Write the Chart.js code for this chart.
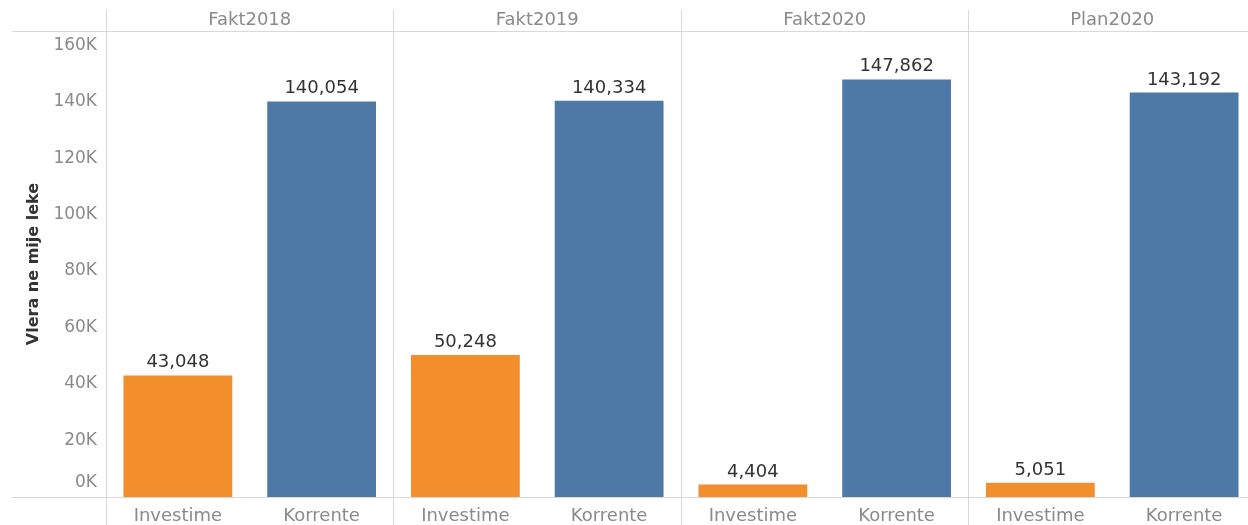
<!DOCTYPE html>
<html><head><meta charset="utf-8">
<script src="https://cdn.jsdelivr.net/npm/chart.js@4.4.1/dist/chart.umd.min.js"></script>
<style>html,body{margin:0;padding:0;overflow:hidden;background:#fff}#wrap{width:1262px;height:525px;position:relative}</style>
</head><body><div id="wrap"><canvas id="c"></canvas></div>
<script>
const panels = ['Fakt2018', 'Fakt2019', 'Fakt2020', 'Plan2020'];
const types = ['Investime', 'Korrente'];
const investime = [43048, 50248, 4404, 5051];
const korrente = [140054, 140334, 147862, 143192];
const yTicks = [0, 20000, 40000, 60000, 80000, 100000, 120000, 140000, 160000];
const colors = ['#F28E2B', '#4E79A7'];

const labels = [], values = [], barColors = [];
panels.forEach((p, i) => {
  labels.push(types[0]); values.push(investime[i]); barColors.push(colors[0]);
  labels.push(types[1]); values.push(korrente[i]); barColors.push(colors[1]);
});

const FONT = 'DejaVu Sans';
const gridCol = '#d9d9d9';
const tickCol = '#8a8a8a';
const fmtK = v => (v / 1000) + 'K';

const extras = {
  id: 'extras',
  afterDraw(chart) {
    const ctx = chart.ctx, a = chart.chartArea;
    ctx.save();
    ctx.strokeStyle = gridCol; ctx.lineWidth = 1;
    ctx.beginPath();
    ctx.moveTo(12, a.top + 0.5); ctx.lineTo(a.right, a.top + 0.5);
    ctx.moveTo(12, a.bottom + 0.5); ctx.lineTo(a.right, a.bottom + 0.5);
    ctx.stroke();
    // zero label raised above the baseline, as in the original
    const ys = chart.scales.y;
    ctx.fillStyle = tickCol;
    ctx.font = '17px "' + FONT + '"';
    ctx.textAlign = 'right'; ctx.textBaseline = 'middle';
    ctx.fillText(fmtK(yTicks[0]), a.left - 9, ys.getPixelForValue(yTicks[0]) - 14);
    // value labels
    const meta = chart.getDatasetMeta(0);
    ctx.fillStyle = '#333';
    ctx.font = '18px "' + FONT + '"';
    ctx.textAlign = 'center'; ctx.textBaseline = 'alphabetic';
    meta.data.forEach((bar, i) => {
      ctx.fillText(values[i].toLocaleString('en-US'), bar.x, bar.y - 8);
    });
    ctx.restore();
  }
};

new Chart(document.getElementById('c'), {
  type: 'bar',
  data: { labels: labels, datasets: [{ data: values, backgroundColor: barColors, categoryPercentage: 1, barPercentage: 0.757 }] },
  options: {
    responsive: true, maintainAspectRatio: false, animation: false,
    layout: { padding: { left: 0, right: 6, top: 10, bottom: 0 } },
    plugins: { legend: { display: false }, tooltip: { enabled: false } },
    scales: {
      x: {
        position: 'bottom',
        grid: { offset: true, color: ctx => (ctx.index % 2 === 0 ? gridCol : 'rgba(0,0,0,0)'), tickLength: 28, tickColor: ctx => (ctx.index % 2 === 0 ? gridCol : 'rgba(0,0,0,0)') },
        border: { display: false },
        ticks: { color: tickCol, font: { family: FONT, size: 18 }, padding: -19, maxRotation: 0 },
        afterFit: s => { s.height = 28; }
      },
      x2: {
        position: 'top', type: 'category', labels: panels,
        grid: { offset: true, color: gridCol, tickLength: 21, drawOnChartArea: false },
        border: { display: false },
        ticks: { color: tickCol, font: { family: FONT, size: 18 }, padding: -21, maxRotation: 0 },
        afterFit: s => { s.height = 21; }
      },
      y: {
        min: 0, max: 165000,
        afterBuildTicks: s => { s.ticks = yTicks.map(v => ({ value: v })); },
        grid: { display: false },
        border: { display: false },
        ticks: { color: tickCol, font: { family: FONT, size: 17 }, padding: 1, callback: v => (v === yTicks[0] ? '' : fmtK(v)) },
        title: { display: true, text: 'Vlera ne mije leke', color: '#333', font: { family: FONT, size: 16, weight: 'bold' }, padding: { top: 24, bottom: 0 } },
        afterFit: s => { s.width = 106; }
      }
    }
  },
  plugins: [extras]
});
</script></body></html>
